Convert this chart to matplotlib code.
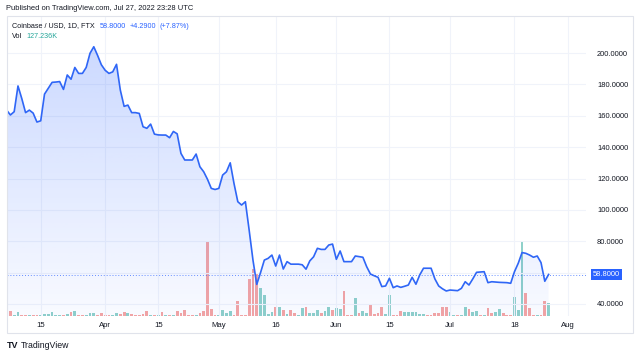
import matplotlib
matplotlib.use('Agg')
import matplotlib.pyplot as plt
import matplotlib.dates as mdates
import matplotlib.transforms as mtransforms
from matplotlib.patches import Rectangle
import numpy as np
import pandas as pd

plt.rcParams['font.family'] = ['Liberation Sans', 'DejaVu Sans']

# Data (daily closes from Mar 6 2022)
start_date = '2022-03-06'
close = [
    163.6, 160.5, 162.6, 179.0, 171.0, 162.0, 163.6, 161.7, 156.0, 156.8,
    173.8, 177.5, 181.3, 181.5, 181.8, 176.8, 186.0, 183.3, 190.8, 187.0,
    187.0, 190.8, 199.8, 204.0, 198.5, 192.5, 189.0, 187.0, 188.0, 192.8,
    176.4, 166.0, 166.8, 162.0, 162.0, 161.5, 153.0, 152.0, 154.7, 148.3,
    147.8, 147.7, 147.7, 146.0, 150.0, 148.5, 136.0, 131.8, 131.8, 131.8,
    135.6, 127.5, 124.3, 119.5, 113.7, 113.0, 113.7, 122.2, 124.3, 130.0,
    116.8, 105.2, 103.1, 105.2, 87.0, 68.0, 52.5, 60.0, 68.0, 69.1,
    71.2, 64.2, 71.2, 62.3, 67.0, 65.4, 65.4, 65.4, 65.0, 62.2,
    67.5, 70.1, 75.5, 74.8, 74.8, 77.6, 78.2, 68.5, 73.8, 67.0,
    67.0, 67.0, 70.6, 70.2, 69.8, 63.8, 59.1, 58.0, 57.0, 51.1,
    51.5, 56.4, 50.4, 51.5, 50.6, 51.3, 52.1, 57.0, 52.6, 58.5,
    62.8, 62.8, 62.8, 56.0, 51.5, 49.7, 48.3, 48.9, 48.7, 48.5,
    50.0, 54.2, 52.1, 56.0, 60.2, 60.4, 60.6, 53.6, 54.2, 54.0,
    53.8, 53.7, 53.6, 53.2, 60.6, 66.0, 72.8, 72.3, 71.2, 69.8,
    70.6, 66.4, 54.5, 58.8,
]
volume_k = [
    5, 47, 10, 40, 10, 10, 7, 10, 10, 10,
    20, 20, 40, 10, 10, 10, 20, 37, 50, 10,
    7, 10, 30, 27, 10, 30, 7, 7, 10, 30,
    20, 37, 27, 20, 10, 7, 23, 50, 10, 10,
    7, 43, 7, 10, 7, 47, 33, 57, 10, 7,
    10, 33, 53, 750, 73, 7, 7, 60, 27, 53,
    10, 150, 7, 7, 370, 467, 427, 283, 207, 20,
    40, 90, 90, 60, 23, 60, 33, 13, 83, 90,
    27, 33, 60, 33, 50, 90, 60, 77, 70, 250,
    13, 13, 183, 33, 50, 27, 123, 17, 27, 93,
    23, 207, 13, 7, 47, 40, 40, 40, 40, 23,
    20, 7, 10, 27, 27, 90, 90, 37, 7, 7,
    10, 90, 67, 37, 47, 7, 13, 83, 33, 40,
    70, 27, 13, 7, 190, 60, 750, 227, 83, 13,
    7, 7, 150, 127.236,
]
# u = up day (green volume), d = down day (red volume)
direction = ''.join([
    'uduudduddu', 'uuuuududud', 'duuudddduu', 'ddudddddud', 'udududdddd',
    'uddddduuuu', 'ddddddduuu', 'udududduud', 'uuuduuduud', 'dduduudddd',
    'uuddduuuuu', 'udddddduud', 'uuduududdu', 'uddduuuddd', 'uddu',
])

tick_dates = ['2022-03-15', '2022-04-01', '2022-04-15', '2022-05-01', '2022-05-16',
              '2022-06-01', '2022-06-15', '2022-07-01', '2022-07-18', '2022-08-01']
tick_labels = ['15', 'Apr', '15', 'May', '16', 'Jun', '15', 'Jul', '18', 'Aug']
price_ticks = [40, 60, 80, 100, 120, 140, 160, 180, 200]
last_price = 58.80
change = 4.29
change_pct = 7.87
last_vol_k = 127.236

# Layout (pixels)
W, H = 640, 356
pane_l, pane_r, pane_t, pane_b = 6.5, 586, 16, 316
px_per_day = 3.79
y_lo, y_hi = 32.35, 223.6

dates = pd.date_range(start_date, periods=len(close), freq='D')
xnum = mdates.date2num(dates)
x0 = xnum[0] - 0.03
x1 = x0 + (pane_r - pane_l) / px_per_day

fig = plt.figure(figsize=(W / 100, H / 100), dpi=100)
rect = [pane_l / W, 1 - pane_b / H, (pane_r - pane_l) / W, (pane_b - pane_t) / H]

# volume pane underneath
axv = fig.add_axes(rect)
up_col, down_col = '#8fd1ca', '#f6a5a3'
bar_colors = [up_col if d == 'u' else down_col for d in direction]
axv.bar(xnum, volume_k, width=0.74, color=bar_colors, linewidth=0)
axv.set_xlim(x0, x1)
axv.set_ylim(0, 3000)
axv.axis('off')

# price pane on top
ax = fig.add_axes(rect)
ax.patch.set_visible(False)
poly = ax.fill_between(xnum, close, y_lo, color='none', linewidth=0)
grad = np.zeros((256, 1, 4))
grad[..., 0] = 41 / 255
grad[..., 1] = 98 / 255
grad[..., 2] = 1.0
grad[..., 3] = np.linspace(0.24, 0.03, 256)[:, None]
im = ax.imshow(grad, aspect='auto', extent=[x0, x1, y_lo, max(close)],
               origin='upper', zorder=1, interpolation='bilinear')
im.set_clip_path(poly.get_paths()[0], transform=ax.transData)
ax.plot(xnum, close, color='#2f66f6', lw=1.2, zorder=3, solid_joinstyle='round')

ax.axhline(last_price, color='#2962ff', lw=0.7, ls=(0, (1, 2)), alpha=0.7, zorder=2)

ax.set_xlim(x0, x1)
ax.set_ylim(y_lo, y_hi)
for s in ax.spines.values():
    s.set_visible(False)

# grid
for p in price_ticks:
    ax.axhline(p, color='#f0f3fa', lw=0.8, zorder=0)
tick_nums = mdates.date2num(pd.to_datetime(tick_dates))
for t in tick_nums:
    ax.axvline(t, color='#f0f3fa', lw=0.8, zorder=0)

ax.set_xticks(tick_nums)
ax.set_xticklabels(tick_labels)
ax.tick_params(axis='x', length=0, pad=4.5, labelsize=5.6, labelcolor='#131722')

ax.yaxis.tick_right()
ax.set_yticks(price_ticks)
ax.set_yticklabels(['' if abs(p - last_price) < 5 else '%.4f' % p for p in price_ticks])
ax.tick_params(axis='y', length=0, pad=8, labelsize=5.4, labelcolor='#131722')

# last price label
trans = mtransforms.blended_transform_factory(ax.transAxes, ax.transData)
ax.text((593 - pane_l) / (pane_r - pane_l), last_price, '%.4f' % last_price,
        transform=trans, color='white', fontsize=5.4, va='center', ha='left',
        bbox=dict(facecolor='#2962ff', edgecolor='none', boxstyle='square,pad=0.3'),
        clip_on=False)

# frame
fig.add_artist(Rectangle((6.5 / W, 1 - 333 / H), (633 - 6.5) / W, (333 - 16) / H,
                         transform=fig.transFigure, fill=False, ec='#e0e3eb', lw=0.8))


def px(x, y):
    return x / W, 1 - y / H


fig.text(*px(6, 9), 'Published on TradingView.com, Jul 27, 2022 23:28 UTC',
         fontsize=5.4, color='#131722', va='center')
fig.text(*px(11.5, 26), 'Coinbase / USD, 1D, FTX', fontsize=5.2, color='#131722', va='center')
fig.text(*px(99.3, 26), '%.4f' % last_price, fontsize=5.2, color='#2962ff', va='center')
fig.text(*px(130, 26), '+%.4f' % change, fontsize=5.2, color='#2962ff', va='center')
fig.text(*px(160, 26), '(+%.2f%%)' % change_pct, fontsize=5.2, color='#2962ff', va='center')
fig.text(*px(11.5, 36), 'Vol', fontsize=5.2, color='#131722', va='center')
fig.text(*px(26.7, 36), '%.3fK' % last_vol_k, fontsize=5.2, color='#26a69a', va='center')

# TradingView logo
fig.text(*px(6.5, 345), 'TV', fontsize=6.5, color='#131722', va='center', weight='heavy')
fig.text(*px(21, 345), 'TradingView', fontsize=6.3, color='#131722', va='center')

fig.savefig('out.png', dpi=100, facecolor='white')
